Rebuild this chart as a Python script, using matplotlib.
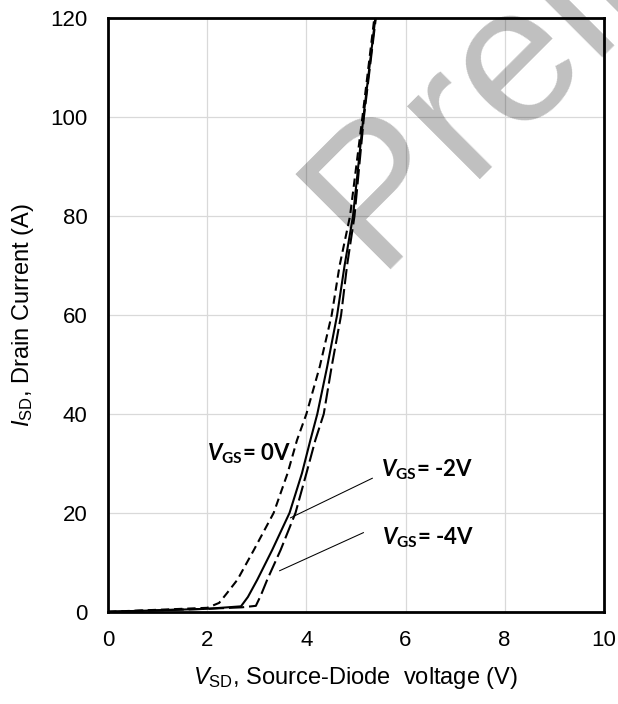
import numpy as np
import matplotlib
matplotlib.use("Agg")
import matplotlib.pyplot as plt

# --- fuentes ---
plt.rcParams['font.family'] = ['Liberation Sans', 'DejaVu Sans']
plt.rcParams['mathtext.fontset'] = 'custom'
plt.rcParams['mathtext.rm'] = 'Liberation Sans'
plt.rcParams['mathtext.it'] = 'Liberation Sans:italic'
plt.rcParams['mathtext.bf'] = 'Lato:bold'
plt.rcParams['mathtext.bfit'] = 'Lato:bold:italic'
plt.rcParams['lines.scale_dashes'] = False

# --- datos: corriente inversa del diodo vs tension ---
vsd_0v = [0, 1.0, 2.0, 2.24, 2.4, 2.61, 2.94, 3.34, 3.62, 3.81, 4.0, 4.27, 4.51, 4.67, 4.88, 5.13, 5.37]
isd_0v = [0, 0.4, 0.8, 1.8, 3.8, 6.5, 12.5, 20, 28, 34.7, 40, 49.6, 60, 70, 80, 100, 120]

vsd_m2v = [0, 1.0, 2.0, 2.68, 2.82, 3.01, 3.31, 3.66, 3.91, 4.08, 4.22, 4.42, 4.62, 4.77, 4.94, 5.15, 5.39]
isd_m2v = [0, 0.3, 0.6, 1.1, 3.0, 6.5, 12.5, 20, 28, 34.7, 40, 49.6, 60, 70, 80, 100, 120]

vsd_m4v = [0, 1.0, 2.0, 2.7, 2.98, 3.08, 3.21, 3.48, 3.78, 4.0, 4.18, 4.35, 4.51, 4.70, 4.82, 4.97, 5.16, 5.40]
isd_m4v = [0, 0.3, 0.6, 0.9, 1.2, 3.3, 6.5, 12.5, 20, 28, 34.7, 40, 49.6, 60, 70, 80, 100, 120]

x_ticks = [0, 2, 4, 6, 8, 10]
y_ticks = [0, 20, 40, 60, 80, 100, 120]

fig = plt.figure(figsize=(6.18, 7.04), dpi=100)
ax = fig.add_axes([0.175, 0.131, 0.802, 0.843])

ax.plot(vsd_0v, isd_0v, color='black', lw=1.5, dashes=[6, 3.5], zorder=3)
ax.plot(vsd_m2v, isd_m2v, color='black', lw=1.5, zorder=3)
ax.plot(vsd_m4v, isd_m4v, color='black', lw=1.5, dashes=[11, 3.5], zorder=3)

# etiquetas de cada curva
lbl = dict(fontsize=16, fontweight='bold', family=['Lato', 'DejaVu Sans'], va='baseline', zorder=4)
ax.text(2.0, 30.7, r'$\mathbfit{V}_{\mathbf{GS}}$= 0V', **lbl)
ax.text(5.51, 27.3, r'$\mathbfit{V}_{\mathbf{GS}}$= -2V', **lbl)
ax.text(5.53, 13.7, r'$\mathbfit{V}_{\mathbf{GS}}$= -4V', **lbl)
ax.plot([3.68, 5.33], [19.0, 27.0], color='black', lw=0.75, zorder=3)
ax.plot([3.46, 5.15], [8.3, 16.0], color='black', lw=0.75, zorder=3)

ax.set_xlim(0, 10)
ax.set_ylim(0, 120)
ax.set_xticks(x_ticks)
ax.set_yticks(y_ticks)
ax.tick_params(length=0, labelsize=16)
ax.tick_params(axis='x', pad=13)
ax.tick_params(axis='y', pad=15)
ax.grid(True, color='#d9d9d9', lw=0.9)
ax.set_axisbelow(True)
for s in ax.spines.values():
    s.set_linewidth(2)

ax.set_xlabel(r'$\mathit{V}_{\mathrm{SD}}$, Source-Diode  voltage (V)', fontsize=17, labelpad=10)
ax.set_ylabel(r'$\mathit{I}_{\mathrm{SD}}$, Drain Current (A)', fontsize=17, labelpad=10)

# marca de agua
ax.text(0.607, 0.618, 'Preliminary', transform=fig.transFigure, fontsize=140,
        color='black', alpha=0.25, rotation=45, rotation_mode='anchor',
        ha='left', va='baseline', clip_on=False, zorder=1)

fig.savefig('out.png', dpi=100)
